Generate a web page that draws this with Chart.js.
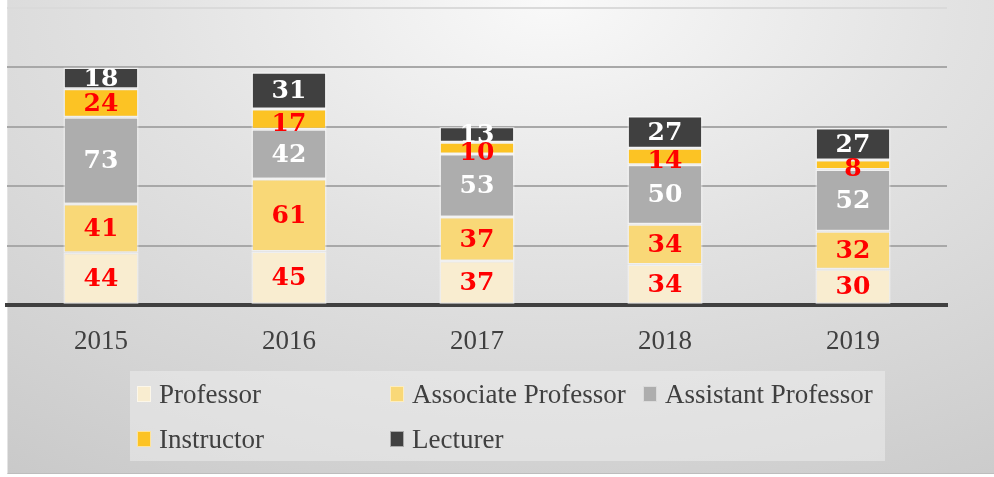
<!DOCTYPE html>
<html lang="en">
  <head>
    <meta charset="UTF-8" />
    <title>Faculty by Rank</title>
    <style>
      body {
        margin: 0;
        width: 994px;
        height: 477px;
        background: #ffffff;
        position: relative;
        overflow: hidden;
        font-family: "Liberation Serif", serif;
      }
      .panel {
        position: absolute;
        left: 7px;
        top: 0;
        width: 986px;
        height: 473px;
        border-left: 1px solid #e4e4e4;
        border-bottom: 1px solid #bdbdbd;
        background: radial-gradient(ellipse 110% 140% at 55% 0%, #f9f9f9 0%, #e2e2e2 38%, #d2d2d2 70%, #c3c3c3 100%);
      }
      .chart-box {
        position: absolute;
        left: 0;
        top: 0;
        width: 994px;
        height: 477px;
      }
      .legend {
        position: absolute;
        left: 130px;
        top: 371px;
        width: 755px;
        height: 90px;
        background: rgba(240, 240, 240, 0.5);
        display: grid;
        grid-template-columns: 253px 253px 249px;
        grid-template-rows: 46px 44px;
        box-sizing: border-box;
        padding-left: 7px;
      }
      .legend-item {
        display: flex;
        align-items: center;
        font-size: 27px;
        color: #404040;
        white-space: nowrap;
      }
      .legend-item span.swatch {
        display: inline-block;
        width: 14px;
        height: 16px;
        margin-right: 8px;
        box-sizing: border-box;
        border: 1px solid rgba(255, 255, 255, 0.55);
      }
    </style>
  </head>
  <body>
    <div class="panel"></div>
    <div class="chart-box">
      <canvas id="rankChart" width="994" height="477"></canvas>
    </div>
    <div class="legend" id="legend"></div>

    <script src="https://cdn.jsdelivr.net/npm/chart.js"></script>
    <script>
      const years = ["2015", "2016", "2017", "2018", "2019"];
      const seriesNames = [
        "Professor",
        "Associate Professor",
        "Assistant Professor",
        "Instructor",
        "Lecturer",
      ];
      const professor = [44, 45, 37, 34, 30];
      const associateProfessor = [41, 61, 37, 34, 32];
      const assistantProfessor = [73, 42, 53, 50, 52];
      const instructor = [24, 17, 10, 14, 8];
      const lecturer = [18, 31, 13, 27, 27];
      const yTicks = [0, 50, 100, 150, 200, 250];

      const seriesValues = [professor, associateProfessor, assistantProfessor, instructor, lecturer];
      const fillColors = ["#f9edd0", "#f9d877", "#adadad", "#fcc324", "#404040"];
      const labelColors = ["#ff0000", "#ff0000", "#ffffff", "#ff0000", "#ffffff"];

      // value labels in the middle of each segment
      const segmentLabels = {
        id: "segmentLabels",
        afterDatasetsDraw(chart) {
          const ctx = chart.ctx;
          ctx.save();
          ctx.font = "bold 25px 'DejaVu Serif', serif";
          ctx.textAlign = "center";
          ctx.textBaseline = "middle";
          chart.data.datasets.forEach((ds, i) => {
            const meta = chart.getDatasetMeta(i);
            meta.data.forEach((bar, j) => {
              const mid = (bar.y + bar.base) / 2;
              // thin instructor segments: excel pushes the label down a bit
              const shift = i === 3 && ds.data[j] < 20 ? 5 : 1;
              ctx.fillStyle = labelColors[i];
              ctx.fillText(String(ds.data[j]), bar.x, mid + shift);
            });
          });
          ctx.restore();
        },
      };

      const datasets = seriesNames.map((name, i) => ({
        label: name,
        data: seriesValues[i],
        backgroundColor: fillColors[i],
        borderColor: "rgba(255, 255, 255, 0.5)",
        borderWidth: 1.5,
        borderSkipped: false,
        barPercentage: 0.4,
        categoryPercentage: 1.0,
      }));

      new Chart(document.getElementById("rankChart"), {
        type: "bar",
        data: { labels: years, datasets: datasets },
        options: {
          responsive: false,
          animation: false,
          layout: { padding: { left: 7, right: 47, top: 8, bottom: 112 } },
          plugins: {
            legend: { display: false },
            tooltip: { enabled: false },
          },
          scales: {
            x: {
              stacked: true,
              grid: { display: false, drawTicks: false },
              border: { display: true, color: "#404040", width: 4 },
              ticks: {
                color: "#404040",
                padding: 21,
                font: { family: "'Liberation Serif', serif", size: 27 },
              },
              afterFit(scale) {
                scale.height = 60;
              },
            },
            y: {
              stacked: true,
              min: 0,
              max: 250,
              afterBuildTicks(scale) {
                scale.ticks = yTicks.map((v) => ({ value: v }));
              },
              grid: {
                drawTicks: false,
                lineWidth: 2,
                color: (c) => (c.tick && c.tick.value === 250 ? "#dadada" : "#a8a8a8"),
              },
              border: { display: false },
              ticks: { display: false },
              afterFit(scale) {
                scale.width = 0;
              },
            },
          },
        },
        plugins: [segmentLabels],
      });

      // legend laid out in three columns like the original
      const legend = document.getElementById("legend");
      seriesNames.forEach((name, i) => {
        const item = document.createElement("div");
        item.className = "legend-item";
        const sw = document.createElement("span");
        sw.className = "swatch";
        sw.style.background = fillColors[i];
        item.appendChild(sw);
        item.appendChild(document.createTextNode(name));
        legend.appendChild(item);
      });
    </script>
  </body>
</html>
